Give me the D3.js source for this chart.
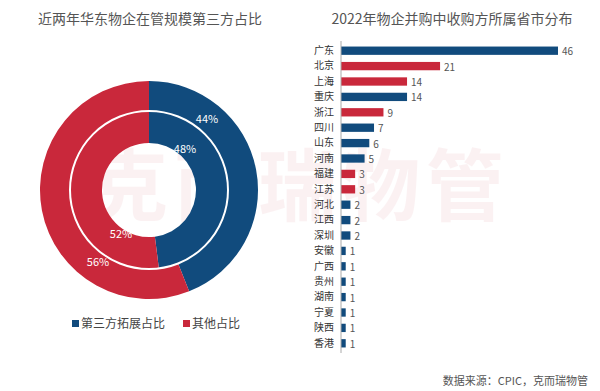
<!DOCTYPE html>
<html><head><meta charset="utf-8">
<script src="https://cdn.jsdelivr.net/npm/d3@7"></script>
<style>body{margin:0;background:#fff;}svg{display:block;font-family:"Noto Sans CJK SC","Noto Sans",sans-serif;}</style>
</head><body>
<svg id="c" width="600" height="391"></svg>
<script>
const leftTitle = "近两年华东物企在管规模第三方占比";
const rightTitle = "2022年物企并购中收购方所属省市分布";
const donutSeries = ["第三方拓展占比", "其他占比"];
const outerRing = [44, 56];
const innerRing = [48, 52];
const provinces = ["广东","北京","上海","重庆","浙江","四川","山东","河南","福建","江苏","河北","江西","深圳","安徽","广西","贵州","湖南","宁夏","陕西","香港"];
const counts = [46,21,14,14,9,7,6,5,3,3,2,2,2,1,1,1,1,1,1,1];
const barGroup = ["b","r","r","b","r","b","b","b","r","r","b","b","b","b","b","b","b","b","b","b"];
const source = "数据来源：CPIC，克而瑞物管";

const BLUE = "#114b7d", RED = "#c9283b";
const svg = d3.select("#c");

// watermark
svg.append("text").attr("x", 300).attr("y", 215).attr("text-anchor", "middle")
  .attr("font-size", 78).attr("font-weight", "bold").attr("fill", "#c9283b").attr("opacity", 0.06)
  .attr("letter-spacing", 6).text("克而瑞物管");

// titles
svg.append("text").attr("x", 150).attr("y", 24).attr("text-anchor", "middle")
  .attr("font-size", 14).attr("fill", "#555").text(leftTitle);
svg.append("text").attr("x", 452).attr("y", 24).attr("text-anchor", "middle")
  .attr("font-size", 14).attr("fill", "#555").text(rightTitle);

// donut
const color = d3.scaleOrdinal().domain(donutSeries).range([BLUE, RED]);
const pie = d3.pie().sort(null).value(d => d.v);
const cx = 149, cy = 190;
const g = svg.append("g").attr("transform", `translate(${cx},${cy})`);
function ring(vals, r0, r1) {
  const data = pie(vals.map((v, i) => ({v, k: donutSeries[i]})));
  const arc = d3.arc().innerRadius(r0).outerRadius(r1);
  g.selectAll(null).data(data).enter().append("path")
    .attr("d", arc).attr("fill", d => color(d.data.k));
  return data;
}
const outerData = ring(outerRing, 79, 109);
const innerData = ring(innerRing, 47, 79);
g.append("circle").attr("r", 79).attr("fill", "none").attr("stroke", "#fff").attr("stroke-width", 2);
// labels
const outerLabelPos = [[58, -72], [-51, 71]];
const innerLabelPos = [[36, -42], [-28, 43]];
function labels(data, pos) {
  g.selectAll(null).data(data).enter().append("text")
    .attr("x", (d, i) => pos[i][0]).attr("y", (d, i) => pos[i][1])
    .attr("text-anchor", "middle").attr("dominant-baseline", "central")
    .attr("font-size", 11).attr("fill", "#fff")
    .text(d => d.data.v + "%");
}
labels(outerData, outerLabelPos);
labels(innerData, innerLabelPos);

// legend
const legendX = [72, 183];
donutSeries.forEach((s, i) => {
  svg.append("rect").attr("x", legendX[i]).attr("y", 320).attr("width", 7).attr("height", 7).attr("fill", color(s));
  svg.append("text").attr("x", legendX[i] + 9).attr("y", 328).attr("font-size", 12).attr("fill", "#444").text(s);
});

// bar chart
const x = d3.scaleLinear().domain([0, 46]).range([341, 558]);
const y = d3.scaleBand().domain(provinces).range([43, 351]).paddingInner(0.46).paddingOuter(0.23);
const bars = provinces.map((p, i) => ({p, v: counts[i], grp: barGroup[i]}));
svg.selectAll(".bar").data(bars).enter().append("rect")
  .attr("x", x(0)).attr("y", d => y(d.p)).attr("width", d => x(d.v) - x(0))
  .attr("height", y.bandwidth()).attr("fill", d => d.grp === "r" ? RED : BLUE);
svg.selectAll(".val").data(bars).enter().append("text")
  .attr("x", d => x(d.v) + 4).attr("y", d => y(d.p) + y.bandwidth() / 2)
  .attr("dominant-baseline", "central").attr("font-size", 10).attr("fill", "#555").text(d => d.v);
const yAxis = d3.axisLeft(y).tickSize(0).tickPadding(7);
const ag = svg.append("g").attr("transform", `translate(${x(0)},0)`).call(yAxis);
ag.select(".domain").attr("stroke", "#aaa").attr("d", "M0,41V353");
ag.selectAll("text").attr("font-size", 10).attr("fill", "#333")
  .attr("font-family", '"Noto Sans CJK SC",sans-serif');

// source
svg.append("text").attr("x", 588).attr("y", 385).attr("text-anchor", "end")
  .attr("font-size", 11).attr("fill", "#555").text(source);
</script>
</body></html>
